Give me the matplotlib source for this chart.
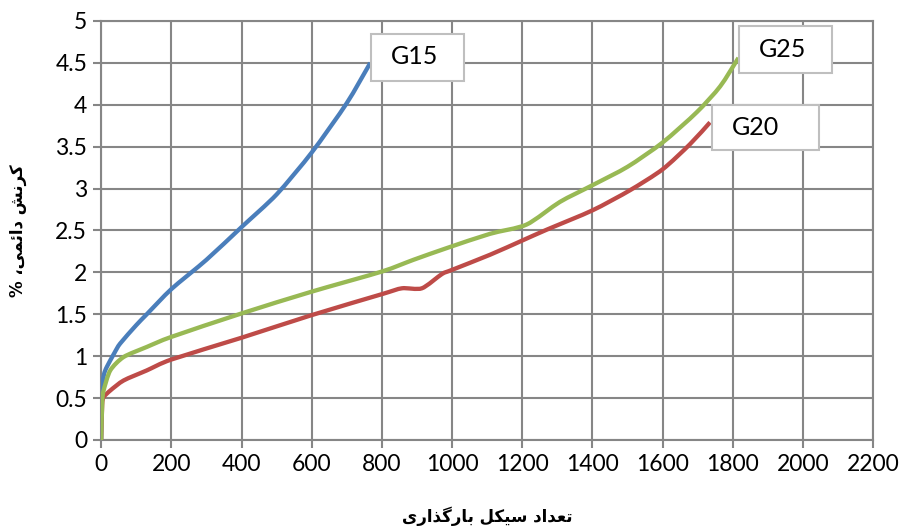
import numpy as np
import matplotlib
matplotlib.use('Agg')
import matplotlib.pyplot as plt
from matplotlib.patches import Rectangle, PathPatch
from matplotlib.path import Path
from matplotlib.ticker import FuncFormatter

## data
g15_x = [0, 2, 8, 16, 38, 54, 100, 130, 200, 300, 400, 500, 600, 700, 767]
g15_y = [0, 0.59, 0.78, 0.87, 1.04, 1.15, 1.37, 1.50, 1.80, 2.15, 2.54, 2.93, 3.43, 4.02, 4.50]

g20_x = [0, 3, 7, 26, 64, 130, 200, 400, 600, 800, 857, 914, 971, 1000, 1108, 1200,
         1270, 1400, 1507, 1600, 1678, 1735]
g20_y = [0, 0.42, 0.51, 0.59, 0.71, 0.83, 0.96, 1.22, 1.49, 1.74, 1.81, 1.81, 1.98, 2.03,
         2.21, 2.38, 2.51, 2.74, 2.98, 3.23, 3.53, 3.79]

g25_x = [0, 3, 7, 26, 64, 130, 200, 400, 600, 800, 890, 985, 1108, 1212, 1307, 1400,
         1500, 1600, 1697, 1764, 1816]
g25_y = [0, 0.45, 0.59, 0.83, 0.99, 1.11, 1.23, 1.51, 1.77, 2.01, 2.15, 2.29, 2.46, 2.57,
         2.84, 3.04, 3.26, 3.55, 3.91, 4.22, 4.56]

series_names = ['G15', 'G20', 'G25']
series_colors = ['#4a7ebb', '#be4b48', '#98b954']

x_ticks = list(range(0, 2201, 200))
y_ticks = [0, 0.5, 1, 1.5, 2, 2.5, 3, 3.5, 4, 4.5, 5]

x_title = 'تعداد سیکل بارگذاری'
y_title = 'کرنش دائمی، %'

## label boxes: (x0, y0, x1, y1) and text anchor, in data units
label_boxes = [(770, 4.28, 1034, 4.85), (1740, 3.46, 2046, 4.00), (1818, 4.38, 2083, 4.94)]
label_text_pos = [(893, 4.57), (1865, 3.73), (1942, 4.66)]


## matplotlib has no arabic shaping, so pick presentation forms by hand
## forms: isolated, final, initial, medial
ARABIC_FORMS = {
    'ا': ('\uFE8D', '\uFE8E', None, None),
    'ب': ('\uFE8F', '\uFE90', '\uFE91', '\uFE92'),
    'ت': ('\uFE95', '\uFE96', '\uFE97', '\uFE98'),
    'د': ('\uFEA9', '\uFEAA', None, None),
    'ذ': ('\uFEAB', '\uFEAC', None, None),
    'ر': ('\uFEAD', '\uFEAE', None, None),
    'س': ('\uFEB1', '\uFEB2', '\uFEB3', '\uFEB4'),
    'ش': ('\uFEB5', '\uFEB6', '\uFEB7', '\uFEB8'),
    'ع': ('\uFEC9', '\uFECA', '\uFECB', '\uFECC'),
    'ل': ('\uFEDD', '\uFEDE', '\uFEDF', '\uFEE0'),
    'م': ('\uFEE1', '\uFEE2', '\uFEE3', '\uFEE4'),
    'ن': ('\uFEE5', '\uFEE6', '\uFEE7', '\uFEE8'),
    'ئ': ('\uFE89', '\uFE8A', '\uFE8B', '\uFE8C'),
    'ک': ('\uFB8E', '\uFB8F', '\uFB90', '\uFB91'),
    'گ': ('\uFB92', '\uFB93', '\uFB94', '\uFB95'),
    'ی': ('\uFBFC', '\uFBFD', '\uFBFE', '\uFBFF'),
}


def shape_rtl(text):
    out = []
    for i, ch in enumerate(text):
        if ch not in ARABIC_FORMS:
            out.append(ch)
            continue
        prev = text[i-1] if i > 0 else ''
        nxt = text[i+1] if i+1 < len(text) else ''
        join_prev = prev in ARABIC_FORMS and ARABIC_FORMS[prev][2] is not None
        join_next = nxt in ARABIC_FORMS and ARABIC_FORMS[ch][2] is not None
        iso, fin, ini, med = ARABIC_FORMS[ch]
        if join_prev and join_next:
            out.append(med)
        elif join_prev:
            out.append(fin)
        elif join_next:
            out.append(ini)
        else:
            out.append(iso)
    return ''.join(reversed(out))


def smooth_path(x, y, k=8.0):
    ## excel style smoothed line: catmull-rom segments as cubic beziers
    p = np.column_stack([x, y]).astype(float)
    verts = [p[0]]
    codes = [Path.MOVETO]
    n = len(p)
    for i in range(n - 1):
        p0 = p[i-1] if i > 0 else p[i]
        p1, p2 = p[i], p[i+1]
        p3 = p[i+2] if i + 2 < n else p[i+1]
        verts += [p1 + (p2 - p0) / k, p2 - (p3 - p1) / k, p2]
        codes += [Path.CURVE4] * 3
    return Path(verts, codes)


def main():
    grid_col = '#868686'
    fig = plt.figure(figsize=(9.03, 5.28), dpi=100)
    ax = fig.add_axes([0.112, 0.1667, 0.855, 0.7936])

    xs = [g15_x, g20_x, g25_x]
    ys = [g15_y, g20_y, g25_y]
    for x, y, c in zip(xs, ys, series_colors):
        ax.add_patch(PathPatch(smooth_path(x, y), fill=False, edgecolor=c, lw=3.1,
                               capstyle='butt', joinstyle='round', zorder=3))

    ax.set_xlim(0, 2200)
    ax.set_ylim(0, 5)
    ax.set_xticks(x_ticks)
    ax.set_yticks(y_ticks)
    ax.yaxis.set_major_formatter(FuncFormatter(lambda v, p: '%g' % v))
    ax.grid(True, color=grid_col, lw=1.5, zorder=1)
    ax.set_axisbelow(True)
    for s in ax.spines.values():
        s.set_color(grid_col)
        s.set_linewidth(1.5)
    ax.tick_params(axis='both', length=6, width=1.5, color=grid_col, pad=4,
                   labelsize=16.5, labelcolor='black')
    for lbl in ax.get_xticklabels() + ax.get_yticklabels():
        lbl.set_fontfamily('Lato')

    for (x0, y0, x1, y1), (tx, ty), name in zip(label_boxes, label_text_pos, series_names):
        ax.add_patch(Rectangle((x0, y0), x1-x0, y1-y0, facecolor='white',
                               edgecolor='#bfbfbf', lw=1.5, zorder=5, clip_on=False))
        ax.text(tx, ty, name, fontsize=18, fontfamily='Lato', ha='center', va='center', zorder=6)

    fig.text(0.540, 0.022, shape_rtl(x_title), fontsize=12, fontweight='bold',
             fontfamily='DejaVu Sans', ha='center', va='center')
    fig.text(0.020, 0.564, shape_rtl(y_title), fontsize=12, fontweight='bold',
             fontfamily='DejaVu Sans', ha='center', va='center', rotation=90)

    fig.savefig('out.png', dpi=100)


if __name__ == '__main__':
    main()
